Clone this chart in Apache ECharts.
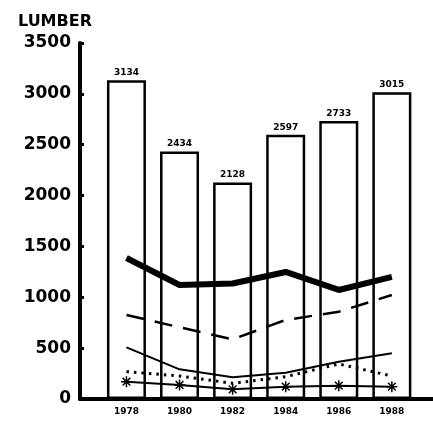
<!DOCTYPE html>
<html>
<head>
<meta charset="utf-8">
<script src="https://cdn.jsdelivr.net/npm/echarts@6/dist/echarts.min.js"></script>
<style>
  html, body { margin: 0; padding: 0; background: #fff; }
  #chart { width: 433px; height: 421px; }
</style>
</head>
<body>
<div id="chart"></div>
<script>
// 年份与数据
var years = [1978, 1980, 1982, 1984, 1986, 1988];
var totals = [3134, 2434, 2128, 2597, 2733, 3015];
var thickLine = [1386, 1121, 1135, 1249, 1072, 1200];
var dashedLine = [826, 705, 587, 777, 858, 1022];
var thinLine = [508, 292, 213, 259, 367, 449];
var dottedLine = [269, 226, 154, 219, 344, 226];
var starLine = [170, 138, 95, 121, 131, 121];

function pairs(vals) {
    var d = [];
    for (var i = 0; i < years.length; i++) {
        d.push([years[i], vals[i]]);
    }
    return d;
}

function plain(v) {
    return String(v);
}

var font = 'DejaVu Sans';
var myChart = echarts.init(document.getElementById('chart'));
var option = {
    animation: false,
    backgroundColor: '#fff',
    title: {
        text: 'LUMBER',
        left: 13,
        top: 9,
        textStyle: { fontFamily: font, fontSize: 16, fontWeight: 'bold', color: '#000' }
    },
    grid: { left: 80, right: 0, top: 43, bottom: 22 },
    xAxis: {
        type: 'value',
        min: 1976.25,
        max: 1989.55,
        axisLine: { lineStyle: { color: '#000', width: 4 } },
        axisTick: { show: false },
        splitLine: { show: false },
        axisLabel: {
            customValues: years,
            formatter: plain,
            margin: 8,
            fontFamily: font,
            fontSize: 9,
            fontWeight: 'bold',
            color: '#000'
        }
    },
    yAxis: {
        type: 'value',
        min: 0,
        max: 3500,
        interval: 500,
        axisLine: { show: true, lineStyle: { color: '#000', width: 4 } },
        axisTick: { show: true, inside: true, length: 4, lineStyle: { color: '#000', width: 3 } },
        splitLine: { show: false },
        axisLabel: {
            formatter: plain,
            margin: 9,
            fontFamily: font,
            fontSize: 17,
            fontWeight: 'bold',
            color: '#000'
        }
    },
    series: [
        {
            type: 'bar',
            data: pairs(totals),
            barWidth: 39,
            itemStyle: { color: '#fff', borderColor: '#000', borderWidth: 2.5 },
            label: {
                show: true,
                position: 'top',
                distance: 3,
                formatter: function(p) { return String(p.value[1]); },
                fontFamily: font,
                fontSize: 9,
                fontWeight: 'bold',
                color: '#000'
            },
            z: 1
        },
        {
            type: 'line',
            data: pairs(thickLine),
            showSymbol: false,
            lineStyle: { color: '#000', width: 6 },
            z: 5
        },
        {
            type: 'line',
            data: pairs(dashedLine),
            showSymbol: false,
            lineStyle: { color: '#000', width: 2.5, type: [18, 11] },
            z: 5
        },
        {
            type: 'line',
            data: pairs(thinLine),
            showSymbol: false,
            lineStyle: { color: '#000', width: 2 },
            z: 5
        },
        {
            type: 'line',
            data: pairs(dottedLine),
            showSymbol: false,
            lineStyle: { color: '#000', width: 3, type: [2.5, 5] },
            z: 5
        },
        {
            type: 'line',
            data: pairs(starLine),
            symbol: 'path://M0,5 L10,5 M5,0 L5,10 M1.5,1.5 L8.5,8.5 M8.5,1.5 L1.5,8.5',
            symbolSize: 11,
            itemStyle: { color: 'none', borderColor: '#000', borderWidth: 1.5 },
            lineStyle: { color: '#000', width: 2 },
            z: 5
        }
    ]
};
myChart.setOption(option);
</script>
</body>
</html>
